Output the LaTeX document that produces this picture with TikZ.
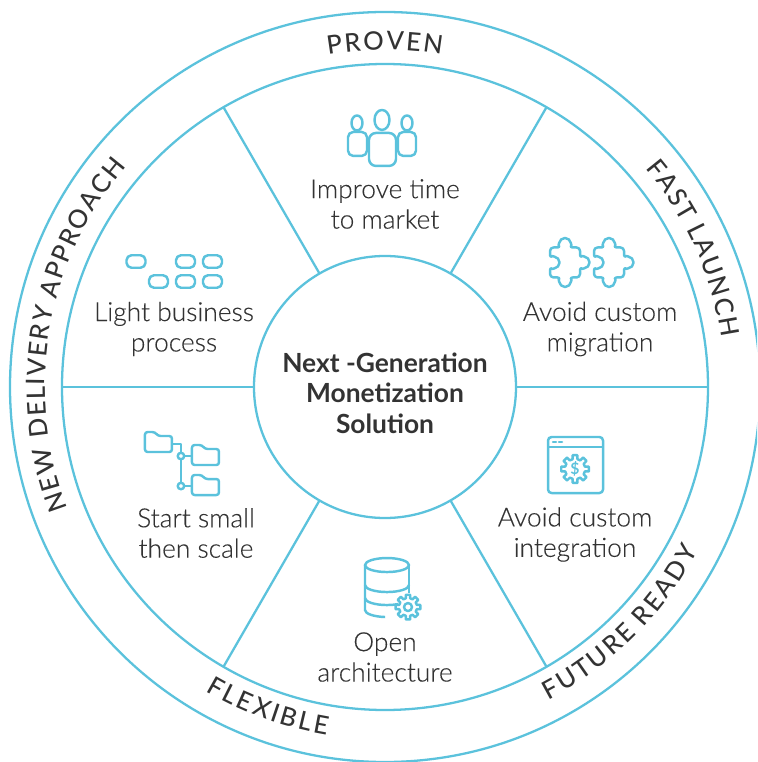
\documentclass[tikz,border=0pt]{standalone}
\usepackage{fontspec}
\setmainfont{Lato Light}[BoldFont=Lato Bold,FakeBold=0.2]
\newfontfamily\ringfont{Lato Medium}
\newfontfamily\hubfont{Lato Bold}
\usepackage{tikz}
\usetikzlibrary{decorations.text}

\definecolor{ringblue}{HTML}{5BC2DC}
\definecolor{textgrey}{HTML}{333333}

\tikzset{
	wheel/.style={draw=ringblue,circle,line width=1.3pt,inner sep=0,outer sep=0},
	spoke/.style={draw=ringblue,line width=1.3pt},
	iconline/.style={draw=ringblue,line width=1.4pt,line join=round},
	iconpx/.style={x=0.02cm,y=-0.02cm,shift={(-385,-387)}},
	pill/.style={iconline,rounded corners=0.1cm,minimum width=0.38cm,minimum height=0.25cm,inner sep=0},
	dot/.style={iconline,circle,minimum size=0.13cm,inner sep=0},
	caption/.style={align=center,text=textgrey,font=\fontsize{15}{17.3}\selectfont},
	ringlabel/.style={decorate,decoration={text effects along path,text={#1},
		text effects/.cd,text along path,fit text to path,
		every character/.style={text=textgrey,font=\ringfont\fontsize{14.5}{16}\selectfont}}},
	gearwheel/.pic={
		\draw[iconline] (-14:#1*0.72) \foreach \a in {0,45,...,315}{
			-- (\a-14:#1*0.72) -- (\a-10:#1) -- (\a+10:#1) -- (\a+14:#1*0.72)} -- cycle;
	},
	puzzle/.pic={
		\draw[iconline,rounded corners=2pt] (-15,-15) -- (-4,-15)
			arc[start angle=135,end angle=405,radius=5.6] -- (15,-15) -- (15,-4)
			arc[start angle=-135,end angle=135,radius=5.6] -- (15,15) -- (4,15)
			arc[start angle=-45,end angle=225,radius=5.6] -- (-15,15) -- (-15,4)
			arc[start angle=135,end angle=-135,radius=5.6] -- cycle;
	},
	folder/.pic={
		\draw[iconline,rounded corners=1.5pt] (-13.5,-10) -- (-3.5,-10) -- (-0.5,-6) -- (13.5,-6) -- (13.5,10) -- (-13.5,10) -- cycle;
	}
}

\begin{document}
\begin{tikzpicture}
		\useasboundingbox (-7.7,-7.5) rectangle (7.44,7.74);
		\path[clip] (-7.7,-7.5) rectangle (7.44,7.74);
		\draw[color=ringblue]
		node[wheel,minimum size=15cm] (rim) at (0, 0){}
		node[wheel,minimum size=12.92cm] (ring) at (0, 0){}
		node[wheel,minimum size=5.24cm] (hub) at (0, 0){};
		\node[caption,font=\hubfont\fontsize{15}{17.3}\selectfont] (title) at (0, -0.12) {Next -Generation\\Monetization\\Solution};

		\foreach \a in {0,60,120,180,240,300}
			\draw[spoke] (hub.\a) -- (ring.\a);

		\path[ringlabel={PROVEN}] (99.7:6.74) arc[start angle=99.7,end angle=80.3,radius=6.74];
		\path[ringlabel={FAST LAUNCH}] (40:6.8) arc[start angle=40,end angle=8.3,radius=6.8];
		\path[ringlabel={FUTURE READY}] (-62.5:7.06) arc[start angle=-62.5,end angle=-27.5,radius=7.06];
		\path[ringlabel={FLEXIBLE}] (239.5:7.06) arc[start angle=239.5,end angle=260.5,radius=7.06];
		\path[ringlabel={NEW DELIVERY APPROACH}] (201:6.8) arc[start angle=201,end angle=139.5,radius=6.8];

		\node[caption] (market) at (0, 3.66) {Improve time\\to market};
		\node[caption] (light) at (-4.22, 1.16) {Light business\\process};
		\node[caption] (migration) at (4.3, 1.16) {Avoid custom\\migration};
		\node[caption] (integration) at (3.8, -2.95) {Avoid custom\\integration};
		\node[caption] (scale) at (-3.78, -2.92) {Start small\\then scale};
		\node[caption] (open) at (0, -5.4) {Open\\architecture};

		% pills
		\draw
		node[pill] (pill_a) at (-4.98, 2.51){}
		node[pill] (pill_b) at (-3.99, 2.51){}
		node[pill] (pill_c) at (-3.45, 2.51){}
		node[pill] (pill_d) at (-4.53, 2.11){}
		node[pill] (pill_e) at (-3.99, 2.11){}
		node[pill] (pill_f) at (-3.45, 2.11){};

		\begin{scope}[iconpx]
			% people
			\draw[iconline] (382,120) ellipse (7.5 and 10);
			\draw[iconline,rounded corners=4pt] (369,133) rectangle (396,166);
			\draw[iconline] (357,123) ellipse (5.5 and 7.5);
			\draw[iconline,rounded corners=3pt] (348,132) rectangle (367,156);
			\draw[iconline] (407,123) ellipse (5.5 and 7.5);
			\draw[iconline,rounded corners=3pt] (398,132) rectangle (416,156);

			% puzzle
			\pic at (565,262.5) {puzzle};
			\pic at (609,262.5) {puzzle};

			% window
			\draw[iconline,rounded corners=2pt] (548,437) rectangle (603,493);
			\draw[iconline] (548,447) -- (603,447);
			\draw[iconline,line cap=round] (553,442) -- (556,442);
			\draw[iconline,line cap=round] (559,442) -- (562,442);
			\pic at (575,469) {gearwheel=14};
			\node[text=ringblue,font=\hubfont\fontsize{9}{10}\selectfont,inner sep=0] (dollar) at (575,469) {\$};

			% folders
			\pic at (158.5,442) {folder};
			\pic at (205.5,455) {folder};
			\pic at (205.5,485) {folder};
			\coordinate (tree_top) at (172,444);
			\coordinate (tree_a) at (192,456);
			\coordinate (tree_b) at (192,486);
			\node[dot] (knot_a) at (181,456) {};
			\node[dot] (knot_b) at (181,486) {};
			\draw[iconline] (tree_top) -| (knot_a);
			\draw[iconline] (knot_a) -- (tree_a);
			\draw[iconline] (knot_a) -- (knot_b);
			\draw[iconline] (knot_b) -- (tree_b);

			% database
			\draw[iconline] (387,565) ellipse (22 and 7);
			\draw[iconline] (365,565) -- (365,610) arc[start angle=180,end angle=95,x radius=22,y radius=7];
			\draw[iconline] (409,565) -- (409,593);
			\draw[iconline] (365,585) arc[start angle=180,end angle=0,x radius=22,y radius=7];
			\draw[iconline] (365,598) arc[start angle=180,end angle=60,x radius=22,y radius=7];
			\pic at (408,607) {gearwheel=12.5};
			\draw[iconline] (408,607) circle (4);
		\end{scope}
		\end{tikzpicture}
\end{document}
